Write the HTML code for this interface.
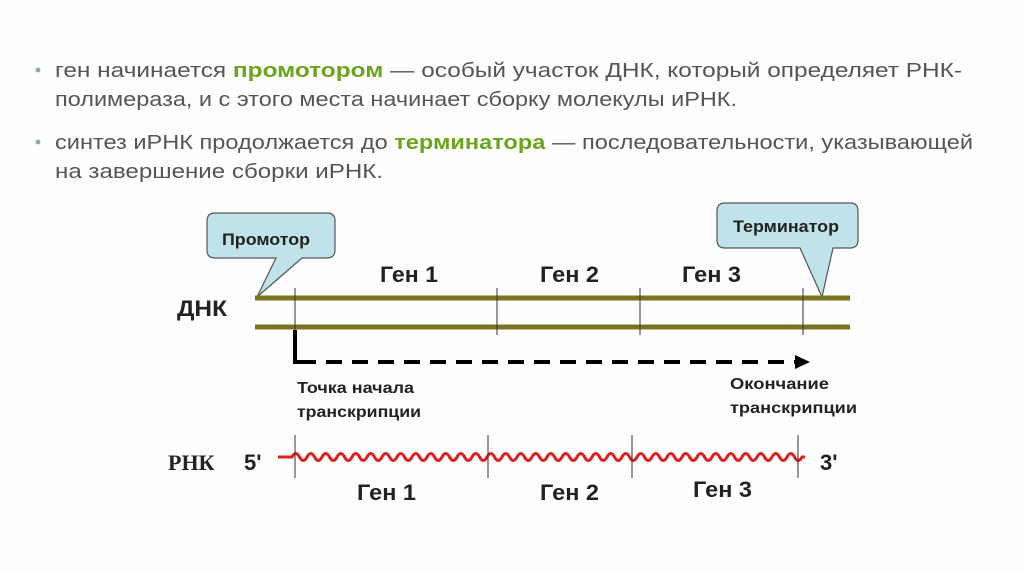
<!DOCTYPE html>
<html><head><meta charset="utf-8"><style>
html,body{margin:0;padding:0;background:#fff;}
svg{display:block;}
</style></head><body>
<svg width="1024" height="574" viewBox="0 0 1024 574" xmlns="http://www.w3.org/2000/svg">
<rect width="1024" height="574" fill="#fefefe"/>
<g font-family="Liberation Sans, sans-serif" font-size="20" fill="#555">
<circle cx="38" cy="70" r="2.5" fill="#9aa"/>
<circle cx="38" cy="142" r="2.5" fill="#9aa"/>
<text x="55" y="77" textLength="907" lengthAdjust="spacingAndGlyphs">ген начинается <tspan fill="#6aa51c" font-weight="bold">промотором</tspan> — особый участок ДНК, который определяет РНК-</text>
<text x="55" y="106" textLength="682" lengthAdjust="spacingAndGlyphs">полимераза, и с этого места начинает сборку молекулы иРНК.</text>
<text x="55" y="149" textLength="918" lengthAdjust="spacingAndGlyphs">синтез иРНК продолжается до <tspan fill="#6aa51c" font-weight="bold">терминатора</tspan> — последовательности, указывающей</text>
<text x="55" y="178" textLength="328" lengthAdjust="spacingAndGlyphs">на завершение сборки иРНК.</text>
</g>
<path d="M215,213 H327 Q335,213 335,221 V250 Q335,258 327,258 H302 L257,297 L276,258 H215 Q207,258 207,250 V221 Q207,213 215,213 Z" fill="#bfe3e8" stroke="#555" stroke-width="1.2"/>
<path d="M725,203 H850 Q858,203 858,211 V240 Q858,248 850,248 H833 L822,297 L800,248 H725 Q717,248 717,240 V211 Q717,203 725,203 Z" fill="#bfe3e8" stroke="#555" stroke-width="1.2"/>
<g font-family="Liberation Sans, sans-serif" font-weight="bold" fill="#222">
<text x="222" y="245" font-size="17" textLength="88" lengthAdjust="spacingAndGlyphs">Промотор</text>
<text x="733" y="232" font-size="17" textLength="106" lengthAdjust="spacingAndGlyphs">Терминатор</text>
<text x="380" y="282" font-size="22" textLength="58" lengthAdjust="spacingAndGlyphs">Ген 1</text>
<text x="540" y="282" font-size="22" textLength="59" lengthAdjust="spacingAndGlyphs">Ген 2</text>
<text x="682" y="282" font-size="22" textLength="59" lengthAdjust="spacingAndGlyphs">Ген 3</text>
<text x="177" y="316" font-size="22" textLength="50" lengthAdjust="spacingAndGlyphs">ДНК</text>
<text x="297" y="393" font-size="16" textLength="117" lengthAdjust="spacingAndGlyphs">Точка начала</text>
<text x="297" y="417" font-size="16" textLength="124" lengthAdjust="spacingAndGlyphs">транскрипции</text>
<text x="730" y="389" font-size="16" textLength="99" lengthAdjust="spacingAndGlyphs">Окончание</text>
<text x="730" y="413" font-size="16" textLength="127" lengthAdjust="spacingAndGlyphs">транскрипции</text>
<text x="357" y="500" font-size="22" textLength="59" lengthAdjust="spacingAndGlyphs">Ген 1</text>
<text x="540" y="500" font-size="22" textLength="59" lengthAdjust="spacingAndGlyphs">Ген 2</text>
<text x="693" y="497" font-size="22" textLength="59" lengthAdjust="spacingAndGlyphs">Ген 3</text>
<text x="244" y="470" font-size="22">5'</text>
<text x="820" y="470" font-size="22">3'</text>
</g>
<text x="168" y="470" font-family="Liberation Serif, serif" font-weight="bold" font-size="22" fill="#222">РНК</text>
<line x1="255" y1="298" x2="850" y2="298" stroke="#7a7420" stroke-width="5"/>
<line x1="255" y1="327" x2="850" y2="327" stroke="#7a7420" stroke-width="5"/>
<g stroke="#333" stroke-width="1">
<line x1="295" y1="288" x2="295" y2="335"/>
<line x1="497" y1="288" x2="497" y2="335"/>
<line x1="640" y1="288" x2="640" y2="335"/>
<line x1="803" y1="288" x2="803" y2="335"/>
</g>
<path d="M295,330 V362 H300" stroke="#000" stroke-width="4" fill="none"/>
<line x1="300" y1="362" x2="796" y2="362" stroke="#000" stroke-width="4" stroke-dasharray="16,10"/>
<path d="M795,355 L810,362 L795,369 Z" fill="#000"/>
<path fill="none" stroke="#e02020" stroke-width="3" d="M278,457 L292,457 q3.75,-7 7.5,0 t7.5,0 t7.5,0 t7.5,0 t7.5,0 t7.5,0 t7.5,0 t7.5,0 t7.5,0 t7.5,0 t7.5,0 t7.5,0 t7.5,0 t7.5,0 t7.5,0 t7.5,0 t7.5,0 t7.5,0 t7.5,0 t7.5,0 t7.5,0 t7.5,0 t7.5,0 t7.5,0 t7.5,0 t7.5,0 t7.5,0 t7.5,0 t7.5,0 t7.5,0 t7.5,0 t7.5,0 t7.5,0 t7.5,0 t7.5,0 t7.5,0 t7.5,0 t7.5,0 t7.5,0 t7.5,0 t7.5,0 t7.5,0 t7.5,0 t7.5,0 t7.5,0 t7.5,0 t7.5,0 t7.5,0 t7.5,0 t7.5,0 t7.5,0 t7.5,0 t7.5,0 t7.5,0 t7.5,0 t7.5,0 t7.5,0 t7.5,0 t7.5,0 t7.5,0 t7.5,0 t7.5,0 t7.5,0 t7.5,0 t7.5,0 t7.5,0 t7.5,0 t7.5,0 l3,0"/>
<g stroke="#333" stroke-width="1">
<line x1="295" y1="435" x2="295" y2="478"/>
<line x1="488" y1="435" x2="488" y2="478"/>
<line x1="632" y1="435" x2="632" y2="478"/>
<line x1="798" y1="435" x2="798" y2="478"/>
</g>
</svg>
</body></html>
